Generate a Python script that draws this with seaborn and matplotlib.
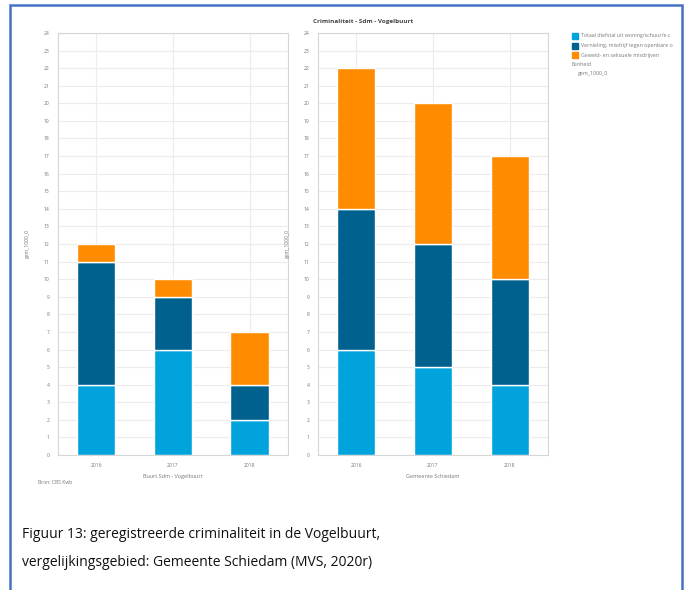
import pandas as pd
import seaborn as sns
import matplotlib.pyplot as plt
from matplotlib.patches import Rectangle

# data
years = ["2016", "2017", "2018"]
categories = [
    "Totaal diefstal uit woning/schuur/e.d.",
    "Vernieling, misdrijf tegen openbare orde",
    "Geweld- en seksuele misdrijven",
]
legend_labels = [
    "Totaal diefstal uit woning/schuur/e.c",
    "Vernieling, misdrijf tegen openbare o",
    "Geweld- en seksuele misdrijven",
]
buurt_diefstal = [4, 6, 2]
buurt_vernieling = [7, 3, 2]
buurt_geweld = [1, 1, 3]
gemeente_diefstal = [6, 5, 4]
gemeente_vernieling = [8, 7, 6]
gemeente_geweld = [8, 8, 7]

colors = ["#00a3db", "#00618f", "#ff8b00"]
grey_text = "#777777"

sns.set_theme(style="white")
plt.rcParams["font.family"] = ["Open Sans", "DejaVu Sans"]

fig = plt.figure(figsize=(6.86, 5.90), dpi=100)


def draw_panel(ax, layers, xlabel):
    df = pd.DataFrame({"year": years})
    bottom = [0] * len(years)
    for name, vals, col in zip(categories, layers, colors):
        df["value"] = vals
        sns.barplot(data=df, x="year", y="value", bottom=bottom, color=col,
                    width=0.5, saturation=1, ax=ax, zorder=3)
        bottom = [b + v for b, v in zip(bottom, vals)]
    ax.set_ylim(0, 24)
    ax.set_xlim(-0.5, 2.5)
    ax.set_yticks(range(0, 25))
    ax.grid(True, color="#ececec", linewidth=0.8, zorder=0)
    ax.set_axisbelow(True)
    for s in ax.spines.values():
        s.set_color("#d6d6d6")
        s.set_linewidth(0.8)
    ax.tick_params(axis="both", labelsize=3.6, colors=grey_text, length=0, pad=6)
    ax.set_xlabel(xlabel, fontsize=4, color=grey_text, labelpad=4)
    ax.set_ylabel("gem_1000_0", fontsize=3.6, color=grey_text, labelpad=10)


ax1 = fig.add_axes([58 / 686, 135 / 590, 230 / 686, 422 / 590])
draw_panel(ax1, [buurt_diefstal, buurt_vernieling, buurt_geweld], "Buurt Sdm - Vogelbuurt")

ax2 = fig.add_axes([318 / 686, 135 / 590, 230 / 686, 422 / 590])
draw_panel(ax2, [gemeente_diefstal, gemeente_vernieling, gemeente_geweld], "Gemeente Schiedam")

fig.text(313 / 686, 1 - 22 / 590, "Criminaliteit - Sdm - Vogelbuurt", fontsize=4.6,
         color="#444444", fontweight="bold", va="center", ha="left")

# legend
leg_y = [36, 46, 55]
for y, lab, col in zip(leg_y, legend_labels, colors):
    fig.patches.append(Rectangle((572 / 686, 1 - (y + 3) / 590), 6 / 686, 6 / 590,
                                 transform=fig.transFigure, color=col, figure=fig))
    fig.text(581 / 686, 1 - y / 590, lab, fontsize=3.8, color=grey_text, va="center", ha="left")
fig.text(572 / 686, 1 - 64 / 590, "Eenheid", fontsize=3.8, color=grey_text, va="center", ha="left")
fig.text(578 / 686, 1 - 74 / 590, "gem_1000_0", fontsize=3.8, color=grey_text, va="center", ha="left")

fig.text(38 / 686, 1 - 483 / 590, "Bron: CBS Kwb", fontsize=3.6, color=grey_text, va="center", ha="left")

# caption
fig.text(22 / 686, 1 - 535 / 590, "Figuur 13: geregistreerde criminaliteit in de Vogelbuurt,",
         fontsize=10, color="#111111", va="center", ha="left")
fig.text(22 / 686, 1 - 563 / 590, "vergelijkingsgebied: Gemeente Schiedam (MVS, 2020r)",
         fontsize=10, color="#111111", va="center", ha="left")

# blue frame
fig.patches.append(Rectangle((10 / 686, -0.05), 672 / 686, 1.05 - 5 / 590,
                             transform=fig.transFigure, fill=False,
                             edgecolor="#4472c4", linewidth=1.8, figure=fig))

fig.savefig("out.png", dpi=100)
